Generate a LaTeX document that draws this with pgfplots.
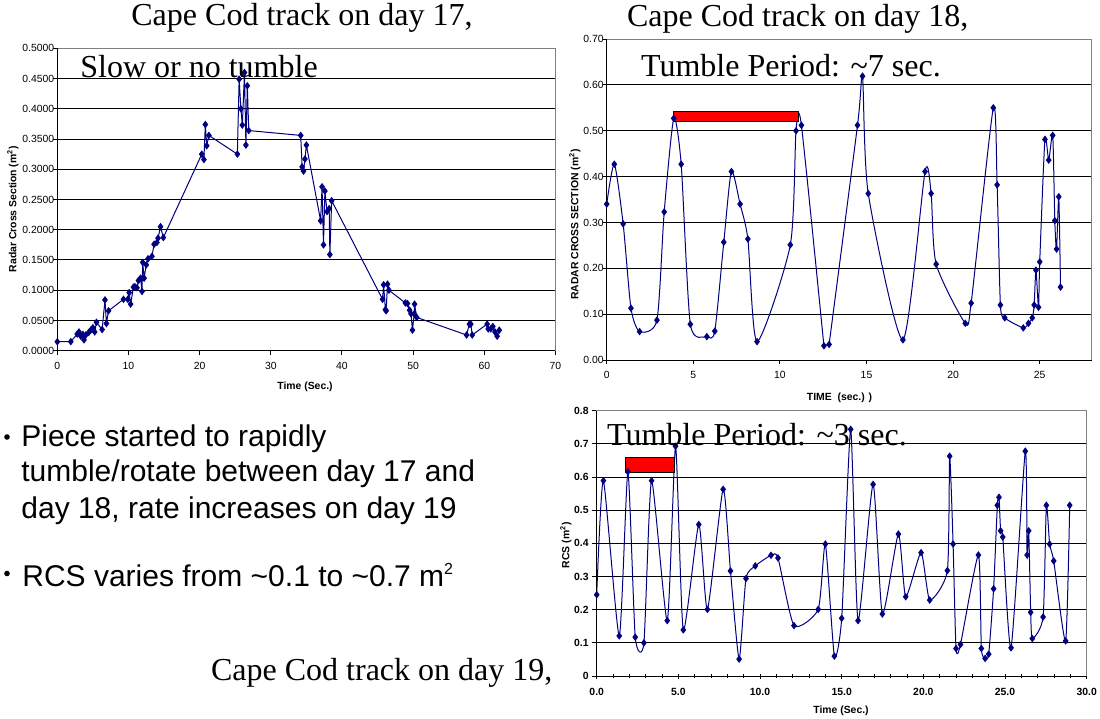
\documentclass[border=0pt]{standalone}
\usepackage{pgfplots}
\pgfplotsset{compat=1.18}
\usepackage{fontspec}
\setmainfont{Liberation Serif}
\setsansfont{Liberation Sans}
\definecolor{navy}{HTML}{000080}
\definecolor{framegray}{HTML}{808080}

\pgfplotsset{
  slide/.style={
    scale only axis, clip=false,
    axis line style={framegray, line width=0.5pt},
    ymajorgrids, grid style={black, line width=0.5pt},
    tick align=outside, major tick length=2pt, tick pos=left,
    tick style={black, line width=0.5pt},
    tick label style={font=\sffamily\fontsize{5.2}{6}\selectfont, black},
    /pgf/number format/assume math mode=true,
  },
  rcs/.style={navy, line width=0.5pt, mark=diamond*, mark size=1.5pt,
    mark options={solid, fill=navy, draw=navy}},
}
\newcommand{\axlines}{\draw[black, line width=0.5pt] (rel axis cs:0,1) -- (rel axis cs:0,0) -- (rel axis cs:1,0);}

\begin{document}
\begin{tikzpicture}[x=0.5pt, y=-0.5pt]
\fill[white] (0,0) rectangle (1100,719);
\useasboundingbox (0,0) rectangle (1100,719);

% day 17
\begin{axis}[slide, at={(28.65pt,-175.35pt)}, anchor=south west,
  width=249.1pt, height=151.2pt,
  xmin=0, xmax=70, ymin=0, ymax=0.5,
  xtick={0,10,...,70}, ytick={0,0.05,...,0.5},
  yticklabel style={xshift=4pt, /pgf/number format/.cd, fixed, fixed zerofill, precision=4},
]
\addplot[rcs] coordinates {
(0,0.0149)(1.9,0.015)(2.8,0.0276)(3.05,0.031)(3.3,0.024)(3.6,0.027)(3.75,0.018)(4.0,0.026)(4.4,0.030)(4.7,0.034)(5.0,0.038)(5.25,0.031)(5.5,0.047)(6.3,0.035)(6.7,0.084)(6.9,0.045)(7.2,0.066)(9.3,0.085)(9.9,0.085)(10.1,0.096)(10.3,0.077)(10.7,0.105)(10.9,0.106)(11.2,0.104)(11.4,0.116)(11.7,0.120)(11.9,0.098)(12.0,0.146)(12.2,0.120)(12.5,0.142)(12.75,0.152)(13.3,0.156)(13.6,0.176)(14.0,0.179)(14.15,0.186)(14.5,0.205)(14.9,0.187)(20.3,0.325)(20.6,0.316)(20.8,0.374)(21.0,0.339)(21.3,0.356)(25.3,0.325)(25.55,0.449)(25.8,0.400)(26.0,0.373)(26.3,0.460)(26.5,0.340)(26.7,0.438)(26.9,0.364)(34.2,0.356)(34.4,0.304)(34.6,0.297)(34.8,0.317)(35.0,0.340)(37.0,0.215)(37.2,0.271)(37.4,0.175)(37.6,0.264)(37.9,0.230)(38.2,0.235)(38.3,0.159)(38.55,0.248)(45.7,0.085)(45.85,0.109)(46.1,0.068)(46.2,0.066)(46.4,0.110)(46.6,0.100)(48.9,0.079)(49.2,0.078)(49.5,0.067)(49.7,0.061)(49.9,0.034)(50.15,0.061)(50.2,0.077)(50.5,0.055)(57.5,0.026)(57.9,0.044)(58.1,0.044)(58.3,0.026)(60.4,0.044)(60.55,0.036)(60.9,0.036)(61.2,0.040)(61.5,0.031)(61.8,0.024)(62.1,0.034)
};
\axlines
\end{axis}

% day 18 (series split at the trough near 12.7 s so the curve does not overshoot)
\begin{axis}[slide, at={(303.35pt,-180pt)}, anchor=south west,
  width=242.5pt, height=160.5pt,
  xmin=0, xmax=28, ymin=0, ymax=0.7,
  xtick={0,5,...,25}, ytick={0,0.1,...,0.7},
  yticklabel style={xshift=4pt, /pgf/number format/.cd, fixed, fixed zerofill, precision=2},
]
\addplot[rcs, smooth, tension=0.4] coordinates {
(0,0.340)(0.44,0.427)(0.95,0.297)(1.4,0.113)(1.9,0.062)(2.9,0.087)(3.32,0.323)(3.87,0.527)(4.3,0.427)(4.83,0.078)(5.78,0.051)(6.24,0.063)(6.76,0.257)(7.2,0.411)(7.7,0.340)(8.15,0.264)(8.68,0.040)(10.6,0.251)(10.93,0.500)(11.24,0.512)(12.54,0.031)
};
\addplot[navy, line width=0.5pt, mark=none] coordinates {(12.54,0.031)(12.84,0.034)};
\addplot[rcs, smooth, tension=0.4] coordinates {
(12.84,0.034)(14.48,0.512)(14.77,0.619)(15.1,0.363)(17.1,0.044)(18.38,0.411)(18.73,0.363)(19.02,0.209)(20.7,0.080)(21.04,0.124)(22.32,0.550)(22.54,0.382)(22.73,0.120)(22.98,0.092)(24.05,0.070)(24.35,0.080)(24.57,0.092)(24.68,0.120)(24.78,0.196)(24.93,0.115)(25.0,0.214)(25.3,0.481)(25.52,0.436)(25.75,0.490)(25.87,0.304)(25.97,0.242)(26.1,0.356)(26.2,0.159)
};
\draw[fill=red, draw=black, line width=0.5pt] (axis cs:3.84,0.520) rectangle (axis cs:11.1,0.543);
\axlines
\end{axis}

% day 19
\begin{axis}[slide, at={(298.35pt,-338pt)}, anchor=south west,
  width=245pt, height=132.65pt,
  xmin=0, xmax=30, ymin=0, ymax=0.8,
  xtick={0,5,...,30}, ytick={0,0.1,...,0.8},
  minor x tick num=4, major tick length=2.5pt, minor tick length=2pt,
  xtick style={yshift=1.2pt},
  tick label style={font=\sffamily\bfseries\fontsize{5.2}{6}\selectfont},
  xticklabel style={/pgf/number format/.cd, fixed, fixed zerofill, precision=1},
  yticklabel style={xshift=2pt, /pgf/number format/.cd, fixed, precision=1},
]
\addplot[rcs, smooth, tension=0.35] coordinates {
(0,0.245)(0.41,0.589)(1.38,0.121)(1.91,0.616)(2.36,0.117)(2.89,0.100)(3.36,0.589)(4.32,0.167)(4.83,0.693)(5.3,0.139)(6.25,0.457)(6.78,0.201)(7.74,0.563)(8.19,0.317)(8.72,0.051)(9.14,0.294)(9.71,0.332)(10.67,0.364)(11.1,0.356)(12.08,0.152)(13.56,0.201)(14.0,0.398)(14.55,0.060)(15.0,0.174)(15.55,0.744)(16.0,0.167)(16.92,0.578)(17.49,0.187)(18.47,0.428)(18.92,0.239)(19.86,0.372)(20.39,0.229)(21.47,0.318)(21.61,0.663)(21.82,0.398)(22.0,0.083)(22.27,0.095)(23.37,0.365)(23.55,0.083)(23.78,0.053)(24.0,0.066)(24.3,0.263)(24.53,0.515)(24.63,0.539)(24.73,0.438)(24.86,0.419)(25.37,0.085)(26.24,0.678)(26.35,0.365)(26.45,0.438)(26.57,0.192)(26.67,0.113)(27.33,0.178)(27.53,0.515)(27.73,0.398)(27.98,0.347)(28.71,0.106)(28.96,0.515)
};
\draw[fill=red, draw=black, line width=0.5pt] (axis cs:1.75,0.614) rectangle (axis cs:4.77,0.659);
\axlines
\end{axis}

% axis labels
\begin{scope}[every node/.style={font=\sffamily\bfseries\fontsize{5.2}{6}\selectfont, inner sep=0pt}]
\node at (305,387) {Time (Sec.)};
\node[rotate=90] at (13,209) {Radar Cross Section (m\textsuperscript{2})};
\node at (839.5,398) {TIME\ \ (sec.) )};
\node[rotate=90] at (575,224.5) {RADAR CROSS SECTION (m\textsuperscript{2})};
\node at (841,711) {Time (Sec.)};
\node[rotate=90] at (566,545) {RCS (m\textsuperscript{2})};
\end{scope}

% slide titles
\begin{scope}[every node/.style={font=\fontsize{16}{19}\selectfont, inner sep=0pt, anchor=base west}]
\node at (131,25) {Cape Cod track on day 17,};
\node at (80,77.7) {Slow or no tumble};
\node at (626.7,26.7) {Cape Cod track on day 18,};
\node at (640.7,76.7) {Tumble Period: \textasciitilde 7 sec.};
\node at (606.7,445) {Tumble Period: \textasciitilde 3 sec.};
\node at (210.7,680.7) {Cape Cod track on day 19,};
\end{scope}

% bullets
\begin{scope}[every node/.style={font=\sffamily\fontsize{15}{18}\selectfont, inner sep=0pt, anchor=base west}]
\node at (21,446.7) {Piece started to rapidly};
\node at (21,481.7) {tumble/rotate between day 17 and};
\node at (21,518) {day 18, rate increases on day 19};
\node at (22,586) {RCS varies from \textasciitilde 0.1 to \textasciitilde 0.7 m\raisebox{6pt}{\fontsize{8}{8}\selectfont 2}};
\fill (7,437) circle (1.4pt);
\fill (7,573.5) circle (1.4pt);
\end{scope}
\end{tikzpicture}
\end{document}
